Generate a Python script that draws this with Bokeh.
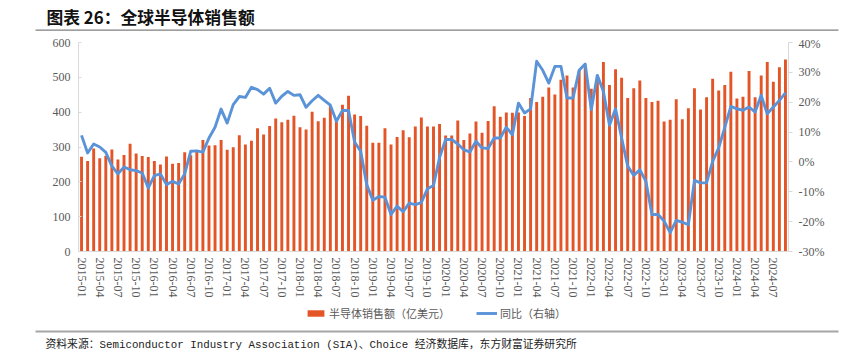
from bokeh.plotting import figure
from bokeh.layouts import column
from bokeh.models import (Range1d, LinearAxis, FixedTicker, PrintfTickFormatter,
                          Legend, LegendItem, ColumnDataSource)
from bokeh.core.properties import value
from bokeh.embed import file_html
from bokeh.resources import INLINE

# ---------------- data ----------------
years = list(range(2015, 2025))
months = [f"{y}-{m:02d}" for y in years for m in range(1, 13)][:117]   # 2015-01 .. 2024-09

# 半导体销售额（亿美元）
sales = [272, 260, 296, 268, 275, 293, 264, 277, 309, 281, 274, 271,   # 2015
         260, 250, 273, 252, 254, 285, 276, 287, 320, 304, 305, 320,   # 2016
         292, 299, 334, 307, 318, 354, 336, 360, 382, 371, 378, 390,   # 2017
         357, 350, 401, 374, 384, 418, 380, 421, 447, 393, 389, 361,   # 2018
         312, 312, 354, 307, 329, 348, 328, 359, 385, 359, 359, 366,   # 2019
         333, 333, 376, 320, 339, 373, 341, 375, 417, 387, 399, 398,   # 2020
         399, 389, 441, 429, 444, 471, 451, 493, 505, 471, 519, 529,   # 2021
         467, 505, 544, 478, 523, 499, 441, 469, 491, 441, 429, 433,   # 2022
         373, 378, 437, 380, 411, 469, 408, 443, 496, 462, 478, 516,   # 2023
         439, 444, 518, 443, 505, 544, 487, 529, 551]                  # 2024

# 同比（右轴，%）
yoy = [8.9, 3.0, 6.0, 5.0, 3.2, -1.4, -4.0, -1.7, -2.6, -2.9, -3.7, -8.7,
       -4.6, -4.0, -7.6, -6.5, -7.4, -4.0, 3.6, 3.7, 3.3, 8.0, 11.6, 17.7,
       13.0, 19.2, 21.9, 21.6, 25.0, 24.2, 22.7, 24.7, 19.7, 22.0, 23.6, 22.3,
       22.5, 18.3, 20.5, 22.3, 20.6, 19.0, 13.6, 17.2, 17.2, 6.7, 3.6, -7.6,
       -12.8, -11.6, -11.8, -17.6, -14.8, -16.7, -13.8, -14.3, -13.6, -9.0, -7.9, 1.5,
       7.5, 7.5, 6.0, 4.1, 3.3, 6.9, 4.7, 4.5, 8.0, 8.0, 11.6, 9.1,
       19.7, 16.4, 17.7, 33.7, 30.7, 26.4, 32.0, 32.0, 21.4, 21.4, 30.7, 32.8,
       17.5, 29.0, 23.6, 12.3, 17.8, 8.0, -1.4, -4.5, -2.6, -6.5, -17.6, -17.6,
       -19.8, -23.7, -19.6, -20.2, -21.0, -6.2, -7.0, -7.0, 0.2, 4.7, 11.6, 18.6,
       17.8, 17.3, 18.4, 16.7, 22.3, 16.1, 18.4, 20.6, 23.1]

tick_idx = list(range(0, len(months), 3))
left_ticks = [0, 100, 200, 300, 400, 500, 600]
right_ticks = [-30, -20, -10, 0, 10, 20, 30, 40]

title_text = "图表 26：全球半导体销售额"
source_text = "资料来源：Semiconductor Industry Association (SIA)、Choice 经济数据库，东方财富证券研究所"
bar_name = "半导体销售额（亿美元）"
line_name = "同比（右轴）"

# ---------------- styles ----------------
RED = "#E35426"
BLUE = "#5B93D8"
AXIS = "#D9D9D9"
TXT = "#595959"
SERIF = "Liberation Serif"
CJK = "Noto Sans CJK SC"
W = 846
H_TOP, H_MAIN, H_BOT = 36, 264, 51


def strip(h):
    f = figure(width=W, height=h, output_backend="svg", toolbar_location=None,
               x_range=Range1d(0, W), y_range=Range1d(h, 0),
               min_border_left=0, min_border_right=0, min_border_top=0, min_border_bottom=0,
               x_axis_type=None, y_axis_type=None, frame_align=False)
    f.outline_line_color = None
    f.background_fill_color = "white"
    f.border_fill_color = "white"
    return f


# ---------------- title strip ----------------
top = strip(H_TOP)
top.text(x=[46], y=[16.5], text=[title_text], text_font=value(CJK), text_font_size="16.8px",
         text_font_style="bold", text_color="#111111", text_baseline="middle", text_align="left")
top.segment(x0=[35], y0=[29.6], x1=[838], y1=[29.6], line_color="#7F7F7F", line_width=1.2)

# ---------------- main chart ----------------
src = ColumnDataSource(dict(x=list(range(len(months))), sales=sales, yoy=yoy, month=months))

p = figure(width=W, height=H_MAIN, output_backend="svg", toolbar_location=None,
           x_range=Range1d(-0.5, len(months) - 0.5), y_range=Range1d(0, 600),
           min_border_left=78, min_border_right=58, min_border_top=6, min_border_bottom=49,
           x_axis_type=None, y_axis_type=None, frame_align=False)
p.extra_y_ranges = {"yoy": Range1d(-30, 40)}
p.outline_line_color = None
p.background_fill_color = "white"
p.border_fill_color = "white"

bars = p.vbar(x="x", top="sales", width=0.48, source=src, fill_color=RED, line_color=None)
line = p.line(x="x", y="yoy", y_range_name="yoy", source=src, line_color=BLUE,
              line_width=2.9, line_join="round")


def style_axis(ax):
    ax.axis_line_color = AXIS
    ax.major_tick_line_color = AXIS
    ax.minor_tick_line_color = None
    ax.major_label_text_font = SERIF
    ax.major_label_text_font_size = "12px"
    ax.major_label_text_color = TXT


xaxis = LinearAxis(ticker=FixedTicker(ticks=tick_idx),
                   major_label_overrides={i: months[i] for i in tick_idx},
                   major_label_orientation="vertical")
style_axis(xaxis)
xaxis.major_tick_in = 0
xaxis.major_tick_out = 0
xaxis.major_label_standoff = 6
p.add_layout(xaxis, "below")

yl = LinearAxis(ticker=FixedTicker(ticks=left_ticks))
style_axis(yl)
yl.major_tick_in = 3
yl.major_tick_out = 0
yl.major_label_standoff = 8
p.add_layout(yl, "left")

yr = LinearAxis(y_range_name="yoy", ticker=FixedTicker(ticks=right_ticks),
                formatter=PrintfTickFormatter(format="%d%%"))
style_axis(yr)
yr.major_tick_in = 0
yr.major_tick_out = 4
yr.major_label_standoff = 6
p.add_layout(yr, "right")

# ---------------- legend + source strip ----------------
bot = strip(H_BOT)
lg_bar = bot.vbar(x=[-100], top=[-100], width=1, fill_color=RED, line_color=None)
lg_line = bot.line(x=[-100, -99], y=[-100, -100], line_color=BLUE, line_width=2.9)
legend = Legend(items=[LegendItem(label=bar_name, renderers=[lg_bar]),
                       LegendItem(label=line_name, renderers=[lg_line])],
                orientation="horizontal", location=(305, H_BOT - 21),
                background_fill_alpha=0, border_line_color=None,
                padding=0, margin=0, spacing=26, glyph_width=21, glyph_height=8,
                label_standoff=3, label_text_font=CJK, label_text_font_size="11px",
                label_text_color=TXT, label_height=14)
bot.add_layout(legend)
bot.segment(x0=[35], y0=[31], x1=[838], y1=[31], line_color="#A6A6A6", line_width=2)
bot.text(x=[45], y=[44.5], text=[source_text], text_font=value("Liberation Mono, Noto Sans CJK SC"),
         text_font_size="10.8px", text_color="#222222", text_baseline="middle", text_align="left")

layout = column(top, p, bot, spacing=0)
open("out.html", "w").write(file_html(layout, INLINE))
